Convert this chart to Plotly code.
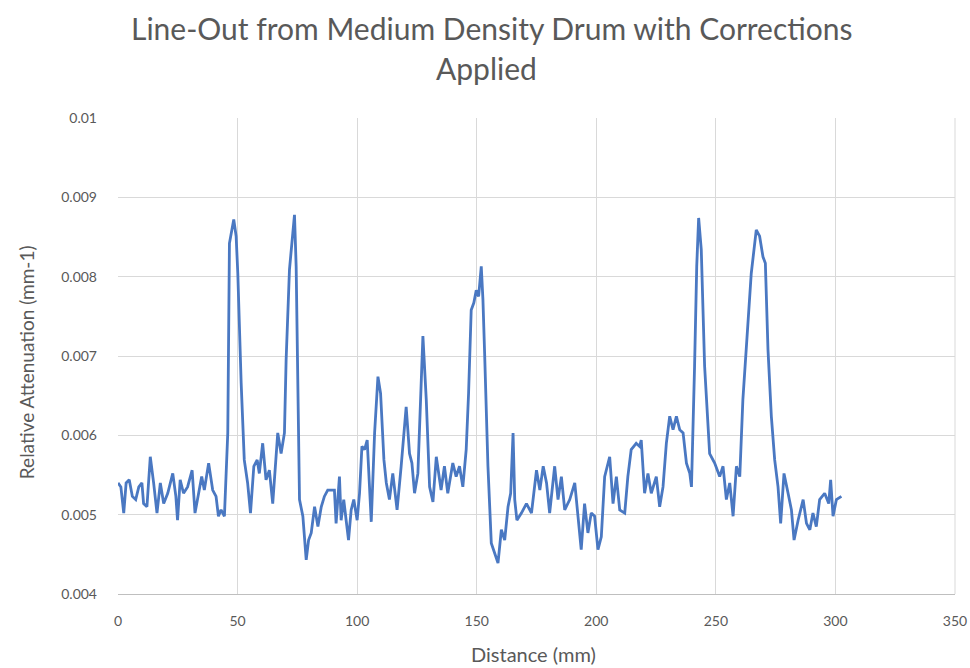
import plotly.graph_objects as go

distance_mm = [
    0, 1.2, 2.4, 3.4, 4.7, 6, 7.4, 8.7, 10, 10.7, 12.1, 13.5, 14.9, 16.3, 17.7, 19.1, 20.8, 22.9, 24.2, 24.9,
    26, 27.4, 29.1, 31, 32.2, 33.6, 35, 36.1, 37.9, 39.6, 41, 42, 43.1, 44.5, 45.9, 46.6, 47.6, 48.4, 49.4, 50.1,
    51.5, 52.8, 54.2, 55.4, 56.8, 58.2, 59.1, 60.5, 61.9, 63.3, 64.7, 66.1, 66.8,
    68.2, 69.6, 70.3, 71.7, 73.1, 73.8, 74.5, 75.2, 75.9, 77.3, 78.7, 79.7, 80.8, 82.2, 83.6, 85.0, 86.3, 87.7,
    89.1, 90.5, 91.2, 92.6, 93.3, 94.4, 95.4, 96.4, 97.5, 98.6, 100.0, 101.0, 102.0, 103.1, 104.2, 105.9, 107.3,
    108.7, 109.8, 111.2, 112.2, 113.5, 114.9, 116.7, 118.4, 120.5, 121.9, 122.9, 124.0, 125.4, 127.5, 128.9,
    130.3, 131.7, 133.1,
    135.1, 136.5, 137.9, 140.0, 141.4, 142.8, 144.2, 145.6, 146.6, 147.7, 148.8, 149.8, 150.8, 151.9, 152.6,
    153.3, 154.7, 156.1, 157.5, 158.9, 160.3, 161.7, 163.1, 164.2, 165.2, 165.9, 166.8, 168.7, 170.8, 172.9,
    175.0, 176.4, 177.8, 179.2, 180.5, 182.6, 184.0, 185.4, 186.8, 188.9, 191.0, 192.4, 193.7, 195.1, 196.5,
    197.9, 199.3, 200.7,
    202.1, 203.5, 205.6, 207.0, 208.4, 209.8, 211.9, 213.2, 214.6, 216.7, 218.1, 218.8, 220.2, 221.6, 223.0,
    225.1, 226.5, 227.9, 229.3, 230.7, 232.1, 233.5, 234.9, 236.3, 237.7, 239.1, 239.8, 241.1, 242.0, 242.8,
    243.9, 245.3, 246.4, 247.4, 249.5, 251.6, 253.0, 254.4, 255.8, 257.2, 258.6, 260.0, 261.3, 263.4, 264.8,
    266.9,
    268.3, 269.7, 270.7, 271.8, 273.2, 274.6, 276.0, 277.1, 278.5, 280.2, 281.6, 282.7, 284.4, 286.5, 287.9,
    289.3, 290.6, 292.0, 293.4, 295.5, 297.2, 298.0, 299.0, 300.4, 302.5,
]

attenuation_e3 = [
    5.40, 5.35, 5.02, 5.40, 5.44, 5.23, 5.19, 5.35, 5.40, 5.14, 5.10, 5.73, 5.40, 5.02, 5.40, 5.14, 5.27, 5.52, 5.23, 4.93,
    5.44, 5.27, 5.35, 5.56, 5.02, 5.27, 5.48, 5.31, 5.65, 5.31, 5.23, 4.98, 5.06, 4.98, 6.03, 8.42, 8.59, 8.72, 8.51, 8.04,
    6.66, 5.69, 5.40, 5.02, 5.61, 5.69, 5.52, 5.90, 5.44, 5.56, 5.14, 5.69, 6.03,
    5.77, 6.03, 6.95, 8.09, 8.55, 8.78, 8.13, 6.87, 5.19, 4.98, 4.43, 4.68, 4.77, 5.10, 4.85, 5.10, 5.23, 5.31,
    5.31, 5.31, 4.89, 5.48, 4.93, 5.19, 4.93, 4.68, 5.06, 5.19, 4.93, 5.27, 5.86, 5.82, 5.94, 4.91, 6.03,
    6.74, 6.53, 5.69, 5.40, 5.19, 5.52, 5.06, 5.61, 6.36, 5.77, 5.65, 5.27, 5.52, 7.25, 6.45,
    5.35, 5.16, 5.73,
    5.31, 5.61, 5.27, 5.65, 5.48, 5.61, 5.35, 5.82, 6.53, 7.58, 7.67, 7.83, 7.75, 8.13, 7.71,
    7.04, 5.61, 4.64, 4.51, 4.39, 4.81, 4.68, 5.10, 5.27, 6.03, 5.19, 4.93, 5.02, 5.14, 5.02,
    5.56, 5.31, 5.61, 5.40, 5.02, 5.61, 5.19, 5.48, 5.06, 5.19, 5.40, 4.93, 4.56, 5.14, 4.77,
    5.02, 4.98, 4.56,
    4.72, 5.48, 5.73, 5.14, 5.48, 5.06, 5.02, 5.48, 5.82, 5.90, 5.86, 5.94, 5.27, 5.52, 5.27,
    5.48, 5.10, 5.35, 5.90, 6.24, 6.07, 6.24, 6.07, 6.03, 5.65, 5.52, 5.35, 6.87, 8.13, 8.74,
    8.34, 6.87, 6.24, 5.77, 5.65, 5.48, 5.61, 5.19, 5.40, 4.98, 5.61, 5.48, 6.45, 7.37, 8.04,
    8.59,
    8.51, 8.25, 8.17, 7.08, 6.24, 5.69, 5.35, 4.89, 5.52, 5.27, 5.06, 4.68, 4.93, 5.19, 4.89,
    4.81, 5.02, 4.85, 5.19, 5.27, 5.14, 5.44, 4.98, 5.19, 5.23,
]
attenuation = [v / 1000.0 for v in attenuation_e3]

x_tick_vals = [0, 50, 100, 150, 200, 250, 300, 350]
y_tick_vals = [0.004, 0.005, 0.006, 0.007, 0.008, 0.009, 0.01]
y_tick_text = ["0.004", "0.005", "0.006", "0.007", "0.008", "0.009", "0.01"]

title_lines = ["Line-Out from Medium Density Drum with Corrections", "Applied"]
x_title = "Distance (mm)"
y_title = "Relative Attenuation (mm-1)"

FONT = "Lato"
GRAY = "#595959"
GRID = "#d9d9d9"

fig = go.Figure()
fig.add_trace(go.Scatter(
    x=distance_mm, y=attenuation, mode="lines",
    line=dict(color="#4a78c2", width=2.8), showlegend=False,
))

fig.update_layout(
    width=970, height=668,
    margin=dict(l=118, r=15, t=118, b=74),
    paper_bgcolor="white", plot_bgcolor="white",
    font=dict(family=FONT, color=GRAY),
)
fig.update_xaxes(
    range=[0, 350], tickvals=x_tick_vals, showgrid=True, gridcolor=GRID, gridwidth=1,
    zeroline=False, showline=True, linecolor="#bfbfbf", linewidth=1,
    ticks="", tickfont=dict(family=FONT, size=14, color=GRAY), ticklabelstandoff=14,
    automargin=False,
)
fig.update_yaxes(
    range=[0.004, 0.01], tickvals=y_tick_vals, ticktext=y_tick_text, showgrid=True,
    gridcolor=GRID, gridwidth=1, zeroline=False, showline=False,
    ticks="", tickfont=dict(family=FONT, size=14, color=GRAY), ticklabelstandoff=20,
    automargin=False,
)
fig.add_shape(type="line", xref="paper", yref="paper", x0=1, x1=1, y0=0, y1=1,
              line=dict(color=GRID, width=1))

# title (two lines) and axis titles as text annotations positioned in pixels
fig.add_annotation(text=title_lines[0], xref="paper", yref="paper", x=0.447, y=1.0,
                   yshift=118 - 28, xanchor="center", yanchor="middle", showarrow=False,
                   font=dict(family=FONT, size=30, color=GRAY))
fig.add_annotation(text=title_lines[1], xref="paper", yref="paper", x=0.440, y=1.0,
                   yshift=118 - 68, xanchor="center", yanchor="middle", showarrow=False,
                   font=dict(family=FONT, size=30, color=GRAY))
fig.add_annotation(text=x_title, xref="paper", yref="paper", x=0.496, y=0.0,
                   yshift=-(654 - 594), xanchor="center", yanchor="middle", showarrow=False,
                   font=dict(family=FONT, size=20, color=GRAY))
fig.add_annotation(text=y_title, xref="paper", yref="paper", x=0.0, y=0.487,
                   xshift=-(118 - 26), xanchor="center", yanchor="middle", textangle=-90,
                   showarrow=False, font=dict(family=FONT, size=19, color=GRAY))

fig.write_html("out.html")
